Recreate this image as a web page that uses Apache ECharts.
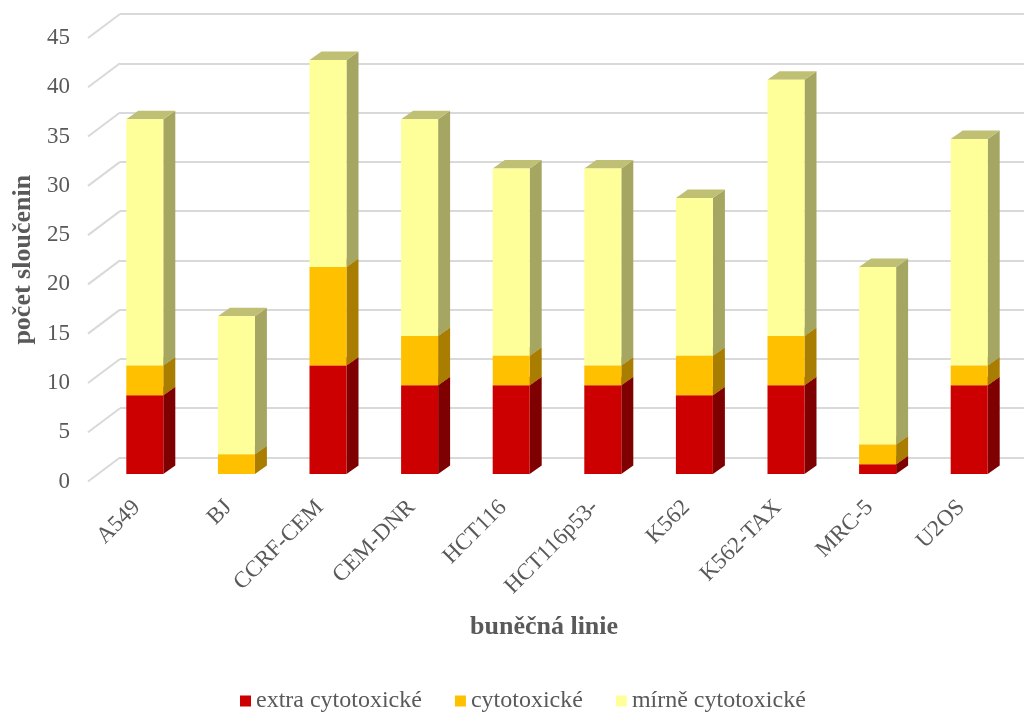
<!DOCTYPE html>
<html>
<head>
<meta charset="utf-8">
<title>Počet sloučenin podle buněčné linie</title>
<script src="https://cdn.jsdelivr.net/npm/echarts@6/dist/echarts.min.js"></script>
<style>
  html, body { margin: 0; padding: 0; background: #ffffff; }
  #chart { width: 1024px; height: 713px; }
</style>
</head>
<body>
<div id="chart"></div>
<script>
// Cell lines and the number of compounds in each cytotoxicity class
const categories = ['A549', 'BJ', 'CCRF-CEM', 'CEM-DNR', 'HCT116', 'HCT116p53-', 'K562', 'K562-TAX', 'MRC-5', 'U2OS'];
const extraCytotoxic = [8, 0, 11, 9, 9, 9, 8, 9, 1, 9];
const cytotoxic = [3, 2, 10, 5, 3, 2, 4, 5, 2, 2];
const mildlyCytotoxic = [25, 14, 21, 22, 19, 20, 16, 26, 18, 23];
const valueTicks = [0, 5, 10, 15, 20, 25, 30, 35, 40, 45];

const seriesNames = ['extra cytotoxické', 'cytotoxické', 'mírně cytotoxické'];

// Face colours of the 3D columns: front, right side, top
const palette = [
  { front: '#CC0000', side: '#7F0000', top: '#E03030' },
  { front: '#FFC000', side: '#A87D00', top: '#C99A10' },
  { front: '#FFFF99', side: '#A6A663', top: '#C0C075' }
];

// Oblique projection of the column boxes relative to the back wall
const FRONT_DX = -21;   // shift of the column front face from the wall plane
const FRONT_DY = 16.5;
const DEPTH_DX = 12;    // column depth as drawn
const DEPTH_DY = -8.5;
const BAR_FRACTION = 0.404; // front face width as a fraction of the category band
const WALL_DX = -32;    // side wall (floor) depth
const WALL_DY = 24;

const textColor = '#595959';
const serif = '"Liberation Serif", "Times New Roman", serif';

// Build stacked [index, base, top] items for each class
const stacks = [extraCytotoxic, cytotoxic, mildlyCytotoxic];
const running = categories.map(() => 0);
const stackedData = stacks.map(values => values.map((v, i) => {
  const base = running[i];
  running[i] += v;
  return [i, base, base + v];
}));

function renderColumn(colors) {
  return function (params, api) {
    const i = api.value(0);
    const base = api.value(1);
    const topV = api.value(2);
    if (topV - base <= 0) return null;
    const pb = api.coord([i, base]);
    const pt = api.coord([i, topV]);
    const band = api.size([1, 0])[0];
    const hw = band * BAR_FRACTION / 2;
    const cx = pb[0] + FRONT_DX;
    const yb = pb[1] + FRONT_DY;
    const yt = pt[1] + FRONT_DY;
    const l = cx - hw, r = cx + hw;
    return {
      type: 'group',
      children: [
        {
          type: 'polygon',
          shape: { points: [[r, yb], [r + DEPTH_DX, yb + DEPTH_DY], [r + DEPTH_DX, yt + DEPTH_DY], [r, yt]] },
          style: { fill: colors.side }
        },
        {
          type: 'polygon',
          shape: { points: [[l, yt], [r, yt], [r + DEPTH_DX, yt + DEPTH_DY], [l + DEPTH_DX, yt + DEPTH_DY]] },
          style: { fill: colors.top }
        },
        {
          type: 'rect',
          shape: { x: l, y: yt, width: r - l, height: yb - yt },
          style: { fill: colors.front }
        }
      ]
    };
  };
}

// Diagonal part of the gridlines on the left side wall
function renderWallLine(params, api) {
  const p = api.coord([0, api.value(1)]);
  const band = api.size([1, 0])[0];
  const x0 = p[0] - band / 2;
  return {
    type: 'line',
    shape: { x1: x0, y1: p[1], x2: x0 + WALL_DX, y2: p[1] + WALL_DY },
    style: { stroke: '#d9d9d9', lineWidth: 2 }
  };
}

const chart = echarts.init(document.getElementById('chart'), null, { renderer: 'canvas' });

const option = {
  animation: false,
  backgroundColor: '#ffffff',
  grid: [
    // back wall (runs past the right edge of the canvas)
    { left: 120, top: 14, width: 916, height: 443.5, outerBoundsMode: 'none' },
    // front edge of the side wall (value labels)
    { left: 88, top: 38, width: 916, height: 443.5, outerBoundsMode: 'none' },
    // column front plane (category labels)
    { left: 91, top: 30.5, width: 916, height: 443.5, outerBoundsMode: 'none' }
  ],
  xAxis: [
    {
      gridIndex: 0, type: 'category', data: categories,
      axisLine: { show: false }, axisTick: { show: false }, axisLabel: { show: false }
    },
    {
      gridIndex: 1, type: 'category', data: categories, show: false
    },
    {
      gridIndex: 2, type: 'category', data: categories,
      axisLine: { show: false }, axisTick: { show: false },
      axisLabel: {
        interval: 0, rotate: 45, margin: 30,
        color: textColor, fontSize: 23, fontFamily: serif
      }
    }
  ],
  yAxis: [
    {
      gridIndex: 0, type: 'value', min: 0, max: 45, interval: 5,
      axisLine: { show: false }, axisTick: { show: false }, axisLabel: { show: false },
      splitLine: { lineStyle: { color: '#d9d9d9', width: 2 } }
    },
    {
      gridIndex: 1, type: 'value', min: 0, max: 45, interval: 5,
      axisLine: { show: false }, axisTick: { show: false }, splitLine: { show: false },
      axisLabel: { margin: 18, color: textColor, fontSize: 23, fontFamily: serif },
      name: 'počet sloučenin',
      nameLocation: 'middle',
      nameRotate: 90,
      nameGap: 49,
      nameTextStyle: { color: textColor, fontSize: 26, fontWeight: 'bold', fontFamily: serif }
    },
    {
      gridIndex: 2, type: 'value', min: 0, max: 45, interval: 5, show: false
    }
  ],
  legend: {
    data: seriesNames,
    top: 689,
    left: 240,
    padding: 0,
    icon: 'rect',
    itemWidth: 11,
    itemHeight: 11,
    itemGap: 33,
    textStyle: { color: textColor, fontSize: 24, fontFamily: serif, padding: [0, 0, 0, 0] }
  },
  graphic: [
    {
      type: 'text',
      left: 470,
      top: 614,
      style: {
        text: 'buněčná linie',
        fill: textColor,
        font: 'bold 26px ' + serif
      }
    }
  ],
  series: [
    {
      type: 'custom',
      name: 'wall',
      xAxisIndex: 0, yAxisIndex: 0,
      silent: true,
      z: 1,
      renderItem: renderWallLine,
      data: valueTicks.map(v => [0, v])
    }
  ].concat(seriesNames.map((name, k) => ({
    type: 'custom',
    name: name,
    xAxisIndex: 0, yAxisIndex: 0,
    z: 2 + k,
    itemStyle: { color: palette[k].front },
    renderItem: renderColumn(palette[k]),
    encode: { x: 0, y: [1, 2] },
    data: stackedData[k]
  })))
};

chart.setOption(option);
</script>
</body>
</html>
